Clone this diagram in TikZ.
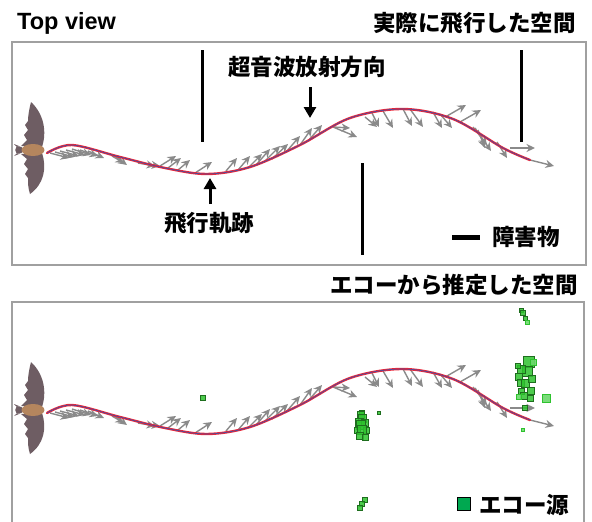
\documentclass[tikz,border=0pt]{standalone}
\usepackage{fontspec}
\setmainfont{Liberation Sans}
\newfontfamily\jp{Noto Sans CJK JP}
\usetikzlibrary{arrows.meta}

\definecolor{framegray}{HTML}{A0A0A0}
\definecolor{vecgray}{HTML}{8A8A8A}
\definecolor{wing}{HTML}{6E5D63}
\definecolor{batbody}{HTML}{B5865E}
\definecolor{pathred}{HTML}{E8283A}
\definecolor{pathblue}{HTML}{3A4FA8}
\definecolor{echofill}{HTML}{2EC22E}
\definecolor{echoedge}{HTML}{1E6E1E}
\definecolor{echolight}{HTML}{6CD86C}
\definecolor{legendgreen}{HTML}{00A850}

\tikzset{
  frame/.style={draw=framegray, line width=1.4pt},
  obstacle/.style={line width=3pt, black},
  callout/.style={line width=3pt, -{Triangle[length=11pt,width=12pt]}},
  beam/.style={vecgray, line width=1.4pt, -{Stealth[length=8.5pt,width=8pt]}},
  label/.style={font=\jp\bfseries\fontsize{22.5}{24}\selectfont, inner sep=0pt},
  echo/.style={fill=echofill, draw=echoedge, line width=0.5pt, fill opacity=0.85},
  echosoft/.style={fill=echolight, draw=echofill, line width=0.4pt, fill opacity=0.9},
}

% trajectory samples
\newcommand{\trackpts}{(47,153) (72,145) (120,157) (165,168) (207,174)
  (250,167) (300,145) (350,118) (403,109) (453,119) (503,148) (530,160)}

% bat, flight path and emission vectors (drawn in both panels)
\newcommand{\flightscene}{%
  % upper wing
  \fill[wing] (42,147) .. controls (47,132) and (44,114) .. (31,102)
     .. controls (29,110) and (28,116) .. (28,121) -- (25,125) -- (28,130)
     -- (24,135) -- (27,140) -- (21,146) -- cycle;
  % lower wing
  \fill[wing] (42,153) .. controls (47,168) and (44,184) .. (30,194)
     .. controls (28,188) and (28,183) .. (28,178) -- (25,174) -- (28,169)
     -- (24,164) -- (27,159) -- (21,154) -- cycle;
  % head and body
  \fill[wing] (19,150) circle (3.8pt);
  \fill[wing] (17,147) -- (14,144) -- (19,146) -- cycle;
  \fill[wing] (17,153) -- (14,156) -- (19,154) -- cycle;
  \fill[batbody] (33,150) ellipse (11.5pt and 6pt);
  % emission directions
  \foreach \sx/\sy/\ex/\ey in {
      50/153/69/158, 55/152/74/157, 60/151/79/156, 66/150/85/155,
      72/149/91/155, 80/150/98/156, 88/151/104/158,
      112/156/124/163, 116/157/127/165,
      138/163/155/166, 145/164/160/166,
      160/166/176/156, 168/168/181/158, 178/170/190/160, 195/173/212/162,
      226/171/237/158, 238/170/250/156, 248/168/262/154, 256/165/270/149,
      264/162/280/146, 272/159/288/144, 286/152/300/136, 300/145/312/128,
      308/141/322/125,
      333/127/357/137, 333/127/350/128, 365/117/377/127,
      372/113/379/127, 383/111/393/128, 403/109/412/126, 410/109/423/127,
      433/112/442/128, 440/114/452/128,
      447/116/466/105, 460/122/481/110,
      473/127/487/145, 475/128/491/151, 478/130/485/148,
      497/142/507/158, 510/148/535/148, 530/160/554/166}
    \draw[beam] (\sx,\sy) -- (\ex,\ey);
  % flight trajectory
  \draw[pathred, line width=2.4pt, line cap=round]
    plot[smooth, tension=0.55] coordinates {\trackpts};
  \draw[pathblue, line width=0.6pt]
    plot[smooth, tension=0.55] coordinates {\trackpts};
}

\begin{document}
\begin{tikzpicture}[x=1pt, y=-1pt]
\useasboundingbox (0,0) rectangle (592,522);

% ---------- upper panel: real flight space ----------
\node[font=\bfseries\fontsize{23.5}{25}\selectfont, anchor=base west, inner sep=0pt]
  (topview) at (17,29) {Top view};
\node[label, anchor=east] (realspace) at (576,23) {実際に飛行した空間};
\draw[frame] (12,42) rectangle (586,265);

\flightscene

\coordinate (w1a) at (202,50);  \coordinate (w1b) at (202,142);
\coordinate (w2a) at (362,163); \coordinate (w2b) at (362,255);
\coordinate (w3a) at (521,50);  \coordinate (w3b) at (521,142);
\draw[obstacle] (w1a) -- (w1b);
\draw[obstacle] (w2a) -- (w2b);
\draw[obstacle] (w3a) -- (w3b);

\node[label] (pulse) at (307,67) {超音波放射方向};
\coordinate (pulsetip) at (310,118);
\draw[callout] (310,87) -- (pulsetip);

\node[label] (track) at (209,223) {飛行軌跡};
\coordinate (tracktip) at (210,178);
\draw[callout] (210,204) -- (tracktip);

\coordinate (keya) at (452,237); \coordinate (keyb) at (480,237);
\draw[line width=5pt] (keya) -- (keyb);
\node[label, anchor=west] (obstaclekey) at (492,237) {障害物};

% ---------- lower panel: space estimated from echoes ----------
\node[label, anchor=east] (echospace) at (578,285) {エコーから推定した空間};
\draw[frame] (12,302) rectangle (584,540);

\begin{scope}[yshift=-260pt]
  \flightscene
\end{scope}

% echo sources
\foreach \x/\y/\s in {
    203/403/5,
    362/418/5, 361/422/7, 362/426/8, 359/430/8, 365/430/7, 361/434/9,
    357/436/6, 366/436/6, 362/439/9, 360/443/7, 365/443/6,
    379/416/3,
    365/505/5, 362/509/5, 360/513/5,
    521/314/4, 523/318/5, 525/322/4,
    529/373/11, 527/381/10, 521/377/8, 519/384/7, 521/390/7, 525/391/8,
    531/398/7, 521/397/6, 524/403/7, 530/404/6, 518/371/5, 532/386/7,
    525/413/5}
  \draw[echo] ({\x-\s/2},{\y-\s/2}) rectangle ++(\s,-\s);
\foreach \x/\y/\s in {527/326/4, 546/406/8, 523/433/3, 533/368/6, 519/402/5}
  \draw[echosoft] ({\x-\s/2},{\y-\s/2}) rectangle ++(\s,-\s);

\node[draw=black, fill=legendgreen, line width=0.8pt, minimum size=13pt, inner sep=0pt]
  (echokey) at (463.5,503.5) {};
\node[label, anchor=west] (echolabel) at (479,505) {エコー源};
\end{tikzpicture}
\end{document}
